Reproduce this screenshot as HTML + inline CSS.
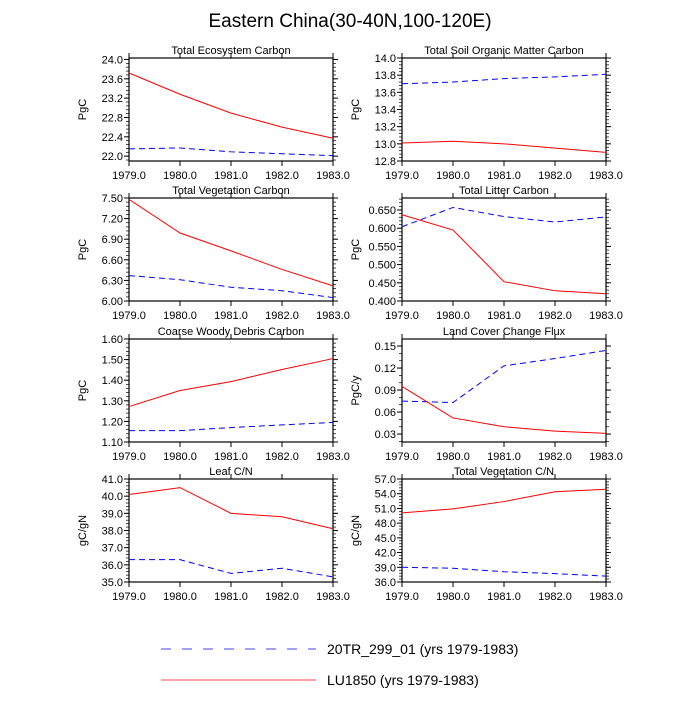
<!DOCTYPE html>
<html><head><meta charset="utf-8"><style>
body{margin:0;background:#fff}
svg text{font-family:"Liberation Sans",sans-serif;fill:#000}
</style></head><body>
<svg id="c" width="700" height="700" xmlns="http://www.w3.org/2000/svg">
<text x="350" y="27" font-size="19" text-anchor="middle">Eastern China(30-40N,100-120E)</text>
<line x1="161" y1="649" x2="316" y2="649" stroke="#4444ee" stroke-width="1" stroke-dasharray="10,11"/>
<text x="327" y="654" font-size="14">20TR_299_01 (yrs 1979-1983)</text>
<line x1="161" y1="680" x2="316" y2="680" stroke="#ff4444" stroke-width="1"/>
<text x="327" y="685" font-size="14">LU1850 (yrs 1979-1983)</text>
</svg>
<script>
const years = [1979, 1980, 1981, 1982, 1983];
const titles = ["Total Ecosystem Carbon","Total Soil Organic Matter Carbon","Total Vegetation Carbon","Total Litter Carbon","Coarse Woody Debris Carbon","Land Cover Change Flux","Leaf C/N","Total Vegetation C/N"];
const units = ["PgC","PgC","PgC","PgC","PgC","PgC/y","gC/gN","gC/gN"];
const red1 = [23.72, 23.28, 22.89, 22.60, 22.37];
const blue1 = [22.15, 22.17, 22.09, 22.05, 22.01];
const red2 = [13.01, 13.03, 13.00, 12.95, 12.90];
const blue2 = [13.70, 13.72, 13.76, 13.78, 13.81];
const red3 = [7.48, 6.99, 6.73, 6.46, 6.22];
const blue3 = [6.37, 6.31, 6.20, 6.15, 6.05];
const red4 = [0.637, 0.595, 0.453, 0.428, 0.420];
const blue4 = [0.604, 0.657, 0.632, 0.617, 0.631];
const red5 = [1.272, 1.350, 1.393, 1.452, 1.505];
const blue5 = [1.155, 1.155, 1.170, 1.183, 1.195];
const red6 = [0.095, 0.052, 0.040, 0.034, 0.031];
const blue6 = [0.075, 0.073, 0.123, 0.133, 0.144];
const red7 = [40.1, 40.5, 39.0, 38.8, 38.1];
const blue7 = [36.3, 36.3, 35.5, 35.8, 35.3];
const red8 = [50.1, 50.9, 52.4, 54.4, 54.9];
const blue8 = [39.0, 38.8, 38.1, 37.7, 37.2];
const yMin = [21.9, 12.8, 6.0, 0.4, 1.1, 0.0192, 35, 36];
const yMax = [24.03, 14.0, 7.5, 0.683, 1.6, 0.1596, 41, 57];
const yTicks = [[22.0,22.4,22.8,23.2,23.6,24.0],[12.8,13.0,13.2,13.4,13.6,13.8,14.0],[6.0,6.3,6.6,6.9,7.2,7.5],[0.4,0.45,0.5,0.55,0.6,0.65],[1.1,1.2,1.3,1.4,1.5,1.6],[0.03,0.06,0.09,0.12,0.15],[35,36,37,38,39,40,41],[36,39,42,45,48,51,54,57]];
const yDec = [1,1,2,3,2,2,1,1];
const reds = [red1,red2,red3,red4,red5,red6,red7,red8];
const blues = [blue1,blue2,blue3,blue4,blue5,blue6,blue7,blue8];

const NS = "http://www.w3.org/2000/svg";
const svg = document.getElementById('c');
function mk(tag, attrs, parent){const e=document.createElementNS(NS,tag);for(const k in attrs)e.setAttribute(k,attrs[k]);(parent||svg).appendChild(e);return e;}
const colX = [129, 402], W = 204;
const rowY = [58, 198, 339, 479], H = 103;
for (let p=0;p<8;p++){
  const x0 = colX[p%2], y0 = rowY[Math.floor(p/2)];
  const g = mk('g',{});
  
  
  const xs = v => x0 + (v-years[0])/(years[4]-years[0])*W;
  const ys = v => y0 + H - (v-yMin[p])/(yMax[p]-yMin[p])*H;
  const t = mk('text',{x:x0+W/2,y:y0-4,'font-size':11,'text-anchor':'middle'},g);
  t.textContent = titles[p];
  
  
  const yl = mk('text',{x:0,y:0,'font-size':11,'text-anchor':'middle',transform:`translate(${x0-43},${y0+H/2}) rotate(-90)`},g);
  yl.textContent = units[p];
  
  
  years.forEach(yr=>{
    const x = xs(yr);
    mk('line',{x1:x,y1:y0+H,x2:x,y2:y0+H+5,stroke:'#000'},g);
    mk('line',{x1:x,y1:y0,x2:x,y2:y0-5,stroke:'#000'},g);
    const lt = mk('text',{x:x,y:y0+H+18,'font-size':11,'text-anchor':'middle'},g);
    lt.textContent = yr.toFixed(1);
    
    
  });
  const tk = yTicks[p];
  const step = tk[1]-tk[0];
  const nm = (p===5)?3:5;
  for (let v=tk[0]-step; v<=yMax[p]+1e-9; v+=step/nm){
    if (v<yMin[p]-1e-9) continue;
    const y=ys(v);
    mk('line',{x1:x0,y1:y,x2:x0-3,y2:y,stroke:'#000','stroke-width':0.7},g);
    mk('line',{x1:x0+W,y1:y,x2:x0+W+3,y2:y,stroke:'#000','stroke-width':0.7},g);
  }
  tk.forEach(v=>{
    const y=ys(v);
    mk('line',{x1:x0,y1:y,x2:x0-5,y2:y,stroke:'#000'},g);
    mk('line',{x1:x0+W,y1:y,x2:x0+W+5,y2:y,stroke:'#000'},g);
    const lt = mk('text',{x:x0-6,y:y+4,'font-size':11,'text-anchor':'end'},g);
    lt.textContent = v.toFixed(yDec[p]);
    
    
  });
  const fr = mk('rect',{x:x0,y:y0,width:W,height:H,fill:'none',stroke:'#000','stroke-width':1.2},g);
  
  
  const bl = mk('polyline',{points:years.map((yr,i)=>xs(yr)+','+ys(blues[p][i])).join(' '),fill:'none',stroke:'#0000ff','stroke-width':1,'stroke-dasharray':'6,4'},g);
  
  
  const rl = mk('polyline',{points:years.map((yr,i)=>xs(yr)+','+ys(reds[p][i])).join(' '),fill:'none',stroke:'#ff0000','stroke-width':1},g);
  
  
}
</script>
</body></html>
